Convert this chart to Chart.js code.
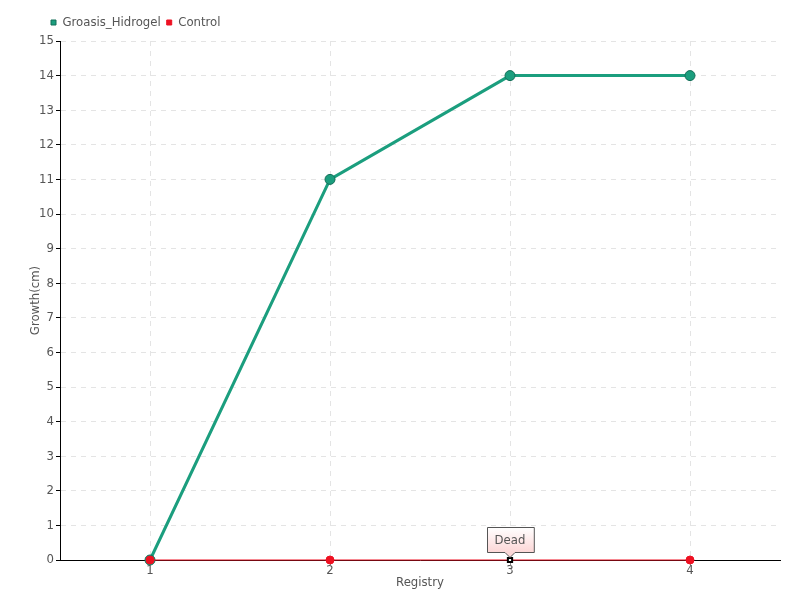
<!DOCTYPE html>
<html>
<head>
<meta charset="utf-8">
<script src="https://cdn.jsdelivr.net/npm/chart.js@4.4.0/dist/chart.umd.min.js"></script>
<style>
  html, body { margin: 0; padding: 0; background: #fff; }
  #wrap { width: 800px; height: 600px; }
</style>
</head>
<body>
<div id="wrap"><canvas id="growthChart" width="800" height="600"></canvas></div>
<script>
// DATA
const registries = ["1", "2", "3", "4"];
const hidrogelGrowth = [0, 11, 14, 14];
const controlGrowth = [0, 0, 0, 0];
const yTicks = [0, 1, 2, 3, 4, 5, 6, 7, 8, 9, 10, 11, 12, 13, 14, 15];
const deadIndex = 2;
const deadLabel = "Dead";

const FONT = "'Liberation Sans Narrow', 'DejaVu Sans Condensed', 'Roboto Condensed', sans-serif";
const GREEN = "#1b9e7e";
const RED = "#ee1122";
const TEXT = "#555";

// "Dead" callout above the control point
const deadCallout = {
  id: "deadCallout",
  afterDatasetsDraw(chart) {
    const ctx = chart.ctx;
    const x = chart.scales.x.getPixelForValue(deadIndex);
    const y = chart.scales.y.getPixelForValue(controlGrowth[deadIndex]);
    ctx.save();
    ctx.font = "13px " + FONT;
    const w = ctx.measureText(deadLabel).width + 16;
    const h = 25;
    const left = Math.round(x - w / 2) + 0.5;
    const top = Math.round(y - 8 - h) + 0.5;
    const grad = ctx.createLinearGradient(0, top, 0, top + h);
    grad.addColorStop(0, "#ffffff");
    grad.addColorStop(1, "#fcd6d6");
    ctx.beginPath();
    ctx.moveTo(left, top);
    ctx.lineTo(left + w, top);
    ctx.lineTo(left + w, top + h);
    ctx.lineTo(x + 5, top + h);
    ctx.lineTo(x, top + h + 5);
    ctx.lineTo(x - 5, top + h);
    ctx.lineTo(left, top + h);
    ctx.closePath();
    ctx.fillStyle = grad;
    ctx.fill();
    ctx.strokeStyle = "#555";
    ctx.lineWidth = 1;
    ctx.stroke();
    ctx.fillStyle = TEXT;
    ctx.textAlign = "center";
    ctx.textBaseline = "middle";
    ctx.fillText(deadLabel, x, top + h / 2 + 1);
    ctx.restore();
  }
};

// push the legend right so it starts near the y axis
const legendShift = {
  id: "legendShift",
  afterLayout(chart) {
    const lg = chart.legend;
    if (lg) {
      lg.left += 17;
      lg.top -= 2;
    }
  }
};

new Chart(document.getElementById("growthChart"), {
  type: "line",
  data: {
    labels: registries,
    datasets: [
      {
        label: "Groasis_Hidrogel",
        data: hidrogelGrowth,
        borderColor: GREEN,
        backgroundColor: GREEN,
        borderWidth: 3,
        pointRadius: 5,
        pointBackgroundColor: GREEN,
        pointBorderColor: "#156f59",
        pointBorderWidth: 1,
        tension: 0,
        clip: false,
        order: 1
      },
      {
        label: "Control",
        data: controlGrowth,
        borderColor: RED,
        backgroundColor: RED,
        borderWidth: 1,
        pointRadius: [4, 4, 3, 4],
        pointStyle: ["circle", "circle", "rect", "circle"],
        pointBackgroundColor: [RED, RED, "#ffffff", RED],
        pointBorderColor: [RED, RED, "#000000", RED],
        pointBorderWidth: [1, 1, 2, 1],
        tension: 0,
        clip: false,
        order: 0
      }
    ]
  },
  options: {
    responsive: false,
    animation: false,
    layout: { padding: { left: 28, right: 20, top: 12, bottom: 10 } },
    plugins: {
      tooltip: { enabled: false },
      legend: {
        align: "start",
        labels: {
          font: { family: FONT, size: 13 },
          color: TEXT,
          usePointStyle: true,
          pointStyle: "rect",
          boxWidth: 5,
          boxHeight: 5,
          padding: 6,
          sort: (a, b) => a.datasetIndex - b.datasetIndex
        }
      }
    },
    scales: {
      x: {
        offset: true,
        grid: {
          offset: false,
          color: "#e4e4e4",
          tickColor: "#888",
          tickLength: 5
        },
        border: { color: "#000", width: 1, dash: [5, 5] },
        ticks: { color: TEXT, font: { family: FONT, size: 13 }, padding: -2 },
        title: { display: true, text: "Registry", color: TEXT, font: { family: FONT, size: 13 }, padding: 0 },
        afterFit(scale) { scale.height = 30; }
      },
      y: {
        min: 0,
        max: 15,
        afterBuildTicks(scale) { scale.ticks = yTicks.map(v => ({ value: v })); },
        grid: {
          color: "#e4e4e4",
          tickColor: "#000",
          tickLength: 4
        },
        border: { color: "#000", width: 1, dash: [5, 5] },
        ticks: { color: TEXT, font: { family: FONT, size: 13 }, padding: 2 },
        title: { display: true, text: "Growth(cm)", color: TEXT, font: { family: FONT, size: 13 }, padding: 0 },
        afterFit(scale) { scale.width = 32; }
      }
    }
  },
  plugins: [deadCallout, legendShift]
});
</script>
</body>
</html>
